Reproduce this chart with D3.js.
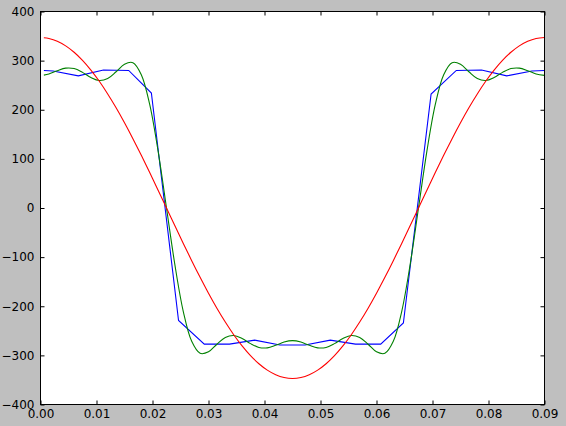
<!DOCTYPE html>
<html>
<head>
<meta charset="utf-8">
<script src="https://cdn.jsdelivr.net/npm/d3@7"></script>
<style>
  html, body { margin: 0; padding: 0; background: #bfbfbf; }
  svg { display: block; }
  text { font-family: "DejaVu Sans", sans-serif; }
</style>
</head>
<body>
<script>
// ---- data ----
const xValues = [0.0006, 0.0015, 0.003, 0.0045, 0.006, 0.0075, 0.009, 0.0105, 0.012, 0.0135, 0.015,
  0.0165, 0.018, 0.0195, 0.021, 0.0225, 0.024, 0.0255, 0.027, 0.0285, 0.03,
  0.0315, 0.033, 0.0345, 0.036, 0.0375, 0.039, 0.0405, 0.042, 0.0435, 0.045,
  0.0465, 0.048, 0.0495, 0.051, 0.0525, 0.054, 0.0555, 0.057, 0.0585, 0.06,
  0.0615, 0.063, 0.0645, 0.066, 0.0675, 0.069, 0.0705, 0.072, 0.0735, 0.075,
  0.0765, 0.078, 0.0795, 0.081, 0.0825, 0.084, 0.0855, 0.087, 0.0885, 0.09];

const redValues = [346.7, 345.1, 339.4, 330.0, 317.0, 300.5, 280.7, 257.9, 232.2, 204.0, 173.5,
  141.1, 107.2, 72.1, 36.3, 0, -36.3, -72.1, -107.2, -141.1, -173.5,
  -204.0, -232.2, -257.9, -280.7, -300.5, -317.0, -330.0, -339.4, -345.1, -347.0,
  -345.1, -339.4, -330.0, -317.0, -300.5, -280.7, -257.9, -232.2, -204.0, -173.5,
  -141.1, -107.2, -72.1, -36.3, 0, 36.3, 72.1, 107.2, 141.1, 173.5,
  204.0, 232.2, 257.9, 280.7, 300.5, 317.0, 330.0, 339.4, 345.1, 347.0];

const greenValues = [270.5, 272.9, 279.5, 284.7, 283.8, 276.1, 265.6, 259.5, 263.5, 277.3, 292.8,
  295.8, 271.4, 210.7, 115.7, 0, -115.7, -210.7, -271.4, -295.8, -292.8,
  -277.3, -263.5, -259.5, -265.6, -276.1, -283.8, -284.7, -279.5, -272.9, -270.0,
  -272.9, -279.5, -284.7, -283.8, -276.1, -265.6, -259.5, -263.5, -277.3, -292.8,
  -295.8, -271.4, -210.7, -115.7, 0, 115.7, 210.7, 271.4, 295.8, 292.8,
  277.3, 263.5, 259.5, 265.6, 276.1, 283.8, 284.7, 279.5, 272.9, 270.0];

const blueX = [0.0006, 0.00225, 0.00675, 0.01125, 0.01575, 0.0198, 0.02465, 0.02925, 0.03375,
  0.03825, 0.04275, 0.04725, 0.05175, 0.05625, 0.06075, 0.0648, 0.06975, 0.07425,
  0.07875, 0.08325, 0.08775, 0.09];
const blueValues = [280, 279, 269, 281, 280, 234, -229, -277, -277, -269, -279, -279, -269,
  -277, -277, -234, 232, 280, 281, 269, 279, 280];

const xTicks = [0, 0.01, 0.02, 0.03, 0.04, 0.05, 0.06, 0.07, 0.08, 0.09];
const yTicks = [-400, -300, -200, -100, 0, 100, 200, 300, 400];

// ---- drawing ----
const W = 566, H = 426;
const L = 40.5, R = 544.5, T = 11.5, B = 404.5;

const svg = d3.select("body").append("svg").attr("width", W).attr("height", H);
svg.append("rect").attr("width", W).attr("height", H).attr("fill", "#bfbfbf");
svg.append("rect").attr("x", L).attr("y", T).attr("width", R - L).attr("height", B - T).attr("fill", "#ffffff");

const x = d3.scaleLinear().domain([0, 0.09]).range([L, R]);
const y = d3.scaleLinear().domain([-400, 400]).range([B, T]);

svg.append("defs").append("clipPath").attr("id", "clip")
  .append("rect").attr("x", L).attr("y", T).attr("width", R - L).attr("height", B - T);

const g = svg.append("g").attr("clip-path", "url(#clip)");
const line = d3.line().x(d => x(d[0])).y(d => y(d[1]));

const series = [
  { xs: blueX, ys: blueValues, color: "#0000ff", curve: d3.curveLinear },
  { xs: xValues, ys: greenValues, color: "#008000", curve: d3.curveCatmullRom },
  { xs: xValues, ys: redValues, color: "#ff0000", curve: d3.curveCatmullRom }
];
series.forEach(s => {
  g.append("path")
    .datum(s.xs.map((v, i) => [v, s.ys[i]]))
    .attr("fill", "none")
    .attr("stroke", s.color)
    .attr("stroke-width", 1.1)
    .attr("d", line.curve(s.curve));
});

// axes with inward ticks on all four sides
const fmtX = d3.format(".2f");
const fmtY = d3.format("d");
function styleAxis(sel) {
  sel.select(".domain").remove();
  sel.selectAll(".tick line").attr("stroke", "#000").attr("stroke-width", 1);
  sel.selectAll("text").attr("fill", "#000").style("font-size", "12px").style("font-family", "DejaVu Sans, sans-serif");
}
svg.append("g").attr("transform", `translate(0,${B})`)
  .call(d3.axisBottom(x).tickValues(xTicks).tickFormat(fmtX).tickSizeInner(-4).tickSizeOuter(0).tickPadding(5))
  .call(styleAxis);
svg.append("g").attr("transform", `translate(0,${T})`)
  .call(d3.axisTop(x).tickValues(xTicks).tickFormat("").tickSizeInner(-4).tickSizeOuter(0))
  .call(styleAxis);
svg.append("g").attr("transform", `translate(${L},0)`)
  .call(d3.axisLeft(y).tickValues(yTicks).tickFormat(fmtY).tickSizeInner(-4).tickSizeOuter(0).tickPadding(6))
  .call(styleAxis);
svg.append("g").attr("transform", `translate(${R},0)`)
  .call(d3.axisRight(y).tickValues(yTicks).tickFormat("").tickSizeInner(-4).tickSizeOuter(0))
  .call(styleAxis);

svg.append("rect").attr("x", L).attr("y", T).attr("width", R - L).attr("height", B - T)
  .attr("fill", "none").attr("stroke", "#000").attr("stroke-width", 1);
</script>
</body>
</html>
